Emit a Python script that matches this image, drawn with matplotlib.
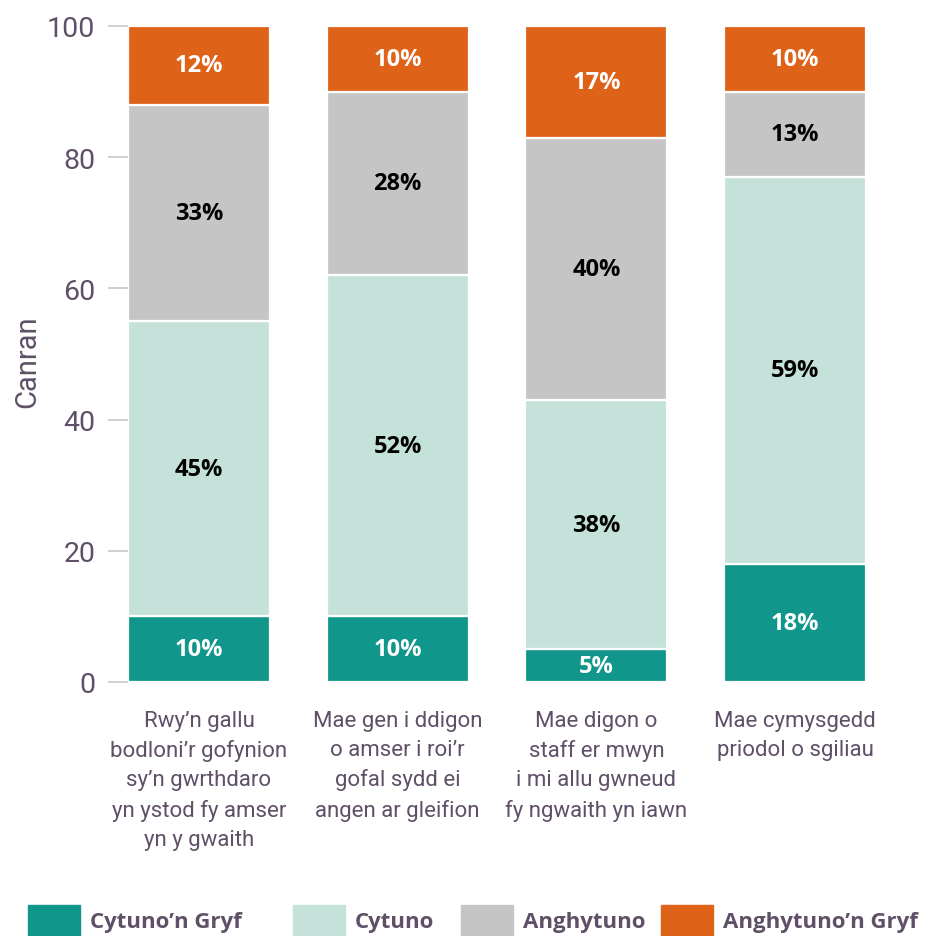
import matplotlib
matplotlib.use("Agg")
import matplotlib.pyplot as plt
from matplotlib.patches import Rectangle
import numpy as np

# data
categories = [
    "Rwy’n gallu\nbodloni’r gofynion\nsy’n gwrthdaro\nyn ystod fy amser\nyn y gwaith",
    "Mae gen i ddigon\no amser i roi’r\ngofal sydd ei\nangen ar gleifion",
    "Mae digon o\nstaff er mwyn\ni mi allu gwneud\nfy ngwaith yn iawn",
    "Mae cymysgedd\npriodol o sgiliau",
]
series_names = ["Cytuno’n Gryf", "Cytuno", "Anghytuno", "Anghytuno’n Gryf"]
cytuno_gryf = [10, 10, 5, 18]
cytuno = [45, 52, 38, 59]
anghytuno = [33, 28, 40, 13]
anghytuno_gryf = [12, 10, 17, 10]
y_ticks = [0, 20, 40, 60, 80, 100]

series = [cytuno_gryf, cytuno, anghytuno, anghytuno_gryf]
colors = ["#10968A", "#C5E2DA", "#C5C5C5", "#DF6219"]
label_colors = ["white", "black", "black", "white"]
text_col = "#5F5068"
cond = ["Roboto", "DejaVu Sans"]
bold = ["Open Sans", "DejaVu Sans"]

fig = plt.figure(figsize=(9.25, 9.37), dpi=100)
ax = fig.add_axes([128 / 925, 1 - 683 / 937, 738 / 925, 656 / 937])

x = np.arange(len(categories))
bottom = np.zeros(len(categories))
for vals, col, lc in zip(series, colors, label_colors):
    vals = np.array(vals, dtype=float)
    ax.bar(x, vals, width=0.715, bottom=bottom, color=col,
           edgecolor="white", linewidth=1.6)
    for xi, b, v in zip(x, bottom, vals):
        ax.text(xi, b + v / 2, f"{int(v)}%", ha="center", va="center",
                color=lc, fontsize=17, fontweight="bold", family=bold)
    bottom += vals

ax.set_xlim(-0.357, 3.357)
ax.set_ylim(0, 100)
for s in ax.spines.values():
    s.set_visible(False)

ax.set_yticks(y_ticks)
ax.set_yticklabels([str(t) for t in y_ticks], family=cond, fontsize=20.5,
                   color=text_col)
ax.tick_params(axis="y", length=14.5, width=1.2, color="#C8C8C8", pad=9)

ax.set_xticks(x)
ax.set_xticklabels(categories, family=cond, fontsize=16, color=text_col,
                   linespacing=1.5)
ax.tick_params(axis="x", length=0, pad=20)

ax.set_ylabel("Canran", family=cond, fontsize=21, color=text_col)
ax.yaxis.set_label_coords(-0.117, 0.49)

# legend along the bottom
leg_x = [28, 293, 461, 661]
for px, name, col in zip(leg_x, series_names, colors):
    fig.patches.append(Rectangle((px / 925, 0), 52 / 925, 31 / 937,
                                 transform=fig.transFigure, color=col))
    fig.text((px + 62) / 925, 14 / 937, name, family=bold, fontsize=16,
             fontweight="bold", color=text_col, va="center", ha="left")

fig.savefig("out.png", dpi=100)
